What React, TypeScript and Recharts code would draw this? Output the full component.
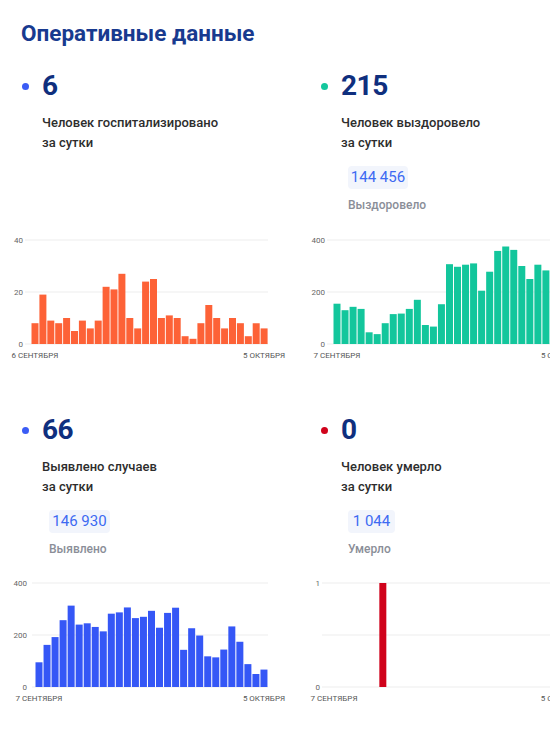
import React from "react";
import { BarChart, Bar, XAxis, YAxis, CartesianGrid } from "recharts";

// days 6 Sep .. 5 Oct
const days30 = [
  "6 СЕНТЯБРЯ", "7 СЕНТЯБРЯ", "8 СЕНТЯБРЯ", "9 СЕНТЯБРЯ", "10 СЕНТЯБРЯ",
  "11 СЕНТЯБРЯ", "12 СЕНТЯБРЯ", "13 СЕНТЯБРЯ", "14 СЕНТЯБРЯ", "15 СЕНТЯБРЯ",
  "16 СЕНТЯБРЯ", "17 СЕНТЯБРЯ", "18 СЕНТЯБРЯ", "19 СЕНТЯБРЯ", "20 СЕНТЯБРЯ",
  "21 СЕНТЯБРЯ", "22 СЕНТЯБРЯ", "23 СЕНТЯБРЯ", "24 СЕНТЯБРЯ", "25 СЕНТЯБРЯ",
  "26 СЕНТЯБРЯ", "27 СЕНТЯБРЯ", "28 СЕНТЯБРЯ", "29 СЕНТЯБРЯ", "30 СЕНТЯБРЯ",
  "1 ОКТЯБРЯ", "2 ОКТЯБРЯ", "3 ОКТЯБРЯ", "4 ОКТЯБРЯ", "5 ОКТЯБРЯ",
];
const days29 = days30.slice(1);

const hospitalized = [8, 19, 9, 8, 10, 5, 9, 6, 9, 22, 21, 27, 10, 6, 24, 25, 10, 11, 10, 3, 2, 8, 15, 10, 6, 10, 8, 3, 8, 6];
const recovered = [155, 130, 143, 135, 45, 38, 80, 115, 117, 135, 170, 73, 67, 153, 307, 297, 305, 310, 205, 278, 358, 375, 362, 300, 250, 305, 283, 270, 215];
const detected = [95, 162, 192, 257, 313, 240, 245, 231, 214, 282, 287, 306, 265, 270, 293, 228, 285, 305, 143, 226, 198, 118, 114, 144, 233, 174, 88, 50, 67];
const died = [0, 0, 0, 0, 0, 0, 1, 0, 0, 0, 0, 0, 0, 0, 0, 0, 0, 0, 0, 0, 0, 0, 0, 0, 0, 0, 0, 0, 0];

const FONT = "Roboto, 'Noto Sans', sans-serif";

interface MiniBarsProps {
  days: string[];
  values: number[];
  color: string;
  left: number;
  top: number;
  yWidth: number;
  padLeft: number;
  marginRight: number;
  yTicks: number[];
  tickMargin: number;
  hideTick?: number;
}

function MiniBars({ days, values, color, left, top, yWidth, padLeft, marginRight, yTicks, tickMargin, hideTick }: MiniBarsProps) {
  const data = days.map((d, i) => ({ day: d, value: values[i] }));
  return (
    <div style={{ position: "absolute", left, top }}>
      <BarChart
        width={290}
        height={134}
        data={data}
        margin={{ top: 10, right: marginRight, left: 0, bottom: 0 }}
        barCategoryGap={0.5}
      >
        <CartesianGrid vertical={false} stroke="#ededed" />
        <XAxis
          dataKey="day"
          ticks={[days[0], days[days.length - 1]]}
          interval={0}
          tickLine={false}
          axisLine={false}
          tickSize={0}
          tickMargin={8}
          height={20}
          padding={{ left: padLeft, right: 0 }}
          tick={{ fontSize: 8, fill: "#555", fontFamily: FONT }}
        />
        <YAxis
          domain={[yTicks[0], yTicks[yTicks.length - 1]]}
          ticks={yTicks}
          width={yWidth}
          tickLine={false}
          axisLine={false}
          tickSize={0}
          tickMargin={tickMargin}
          tickFormatter={(v: number) => (v === hideTick ? "" : String(v))}
          tick={{ fontSize: 8, fill: "#666", fontFamily: FONT }}
        />
        <Bar dataKey="value" fill={color} isAnimationActive={false} />
      </BarChart>
    </div>
  );
}

function Dot({ x, y, color }: { x: number; y: number; color: string }) {
  return (
    <div
      style={{
        position: "absolute",
        left: x - 3.5,
        top: y - 3.5,
        width: 7,
        height: 7,
        borderRadius: "50%",
        background: color,
      }}
    />
  );
}

interface BlockProps {
  x: number;
  y: number;
  dot: string;
  number: string;
  line1: string;
  total?: string;
  totalLabel?: string;
  chipWidth?: number;
}

function Block({ x, y, dot, number, line1, total, totalLabel, chipWidth }: BlockProps) {
  return (
    <>
      <Dot x={x - 17} y={y + 11} color={dot} />
      <div
        style={{
          position: "absolute",
          left: x,
          top: y - 3,
          fontSize: 28,
          lineHeight: "28px",
          fontWeight: 700,
          color: "#0f2f7e",
          letterSpacing: -0.5,
        }}
      >
        {number}
      </div>
      <div
        style={{
          position: "absolute",
          left: x,
          top: y + 38,
          fontSize: 13,
          lineHeight: "20px",
          fontWeight: 500,
          color: "#2d2d2d",
          whiteSpace: "nowrap",
        }}
      >
        {line1}
        <br />
        за сутки
      </div>
      {total && (
        <div
          style={{
            position: "absolute",
            left: x + 7,
            top: y + 91,
            width: chipWidth,
            height: 23,
            lineHeight: "23px",
            background: "#f2f5fc",
            borderRadius: 4,
            fontSize: 15,
            color: "#3d6af2",
            textAlign: "center",
          }}
        >
          {total}
        </div>
      )}
      {totalLabel && (
        <div
          style={{
            position: "absolute",
            left: x + 7,
            top: y + 124,
            fontSize: 12,
            lineHeight: "12px",
            fontWeight: 500,
            color: "#8a8e98",
          }}
        >
          {totalLabel}
        </div>
      )}
    </>
  );
}

export default function App() {
  return (
    <div
      style={{
        position: "absolute",
        left: 0,
        top: 0,
        width: 550,
        height: 734,
        overflow: "hidden",
        background: "#fff",
        fontFamily: FONT,
      }}
    >
      <div
        style={{
          position: "absolute",
          left: 21,
          top: 22,
          fontSize: 22.5,
          lineHeight: "22px",
          fontWeight: 700,
          color: "#183a8f",
          whiteSpace: "nowrap",
        }}
      >
        Оперативные данные
      </div>

      <Block x={42} y={75} dot="#3b5cf5" number="6" line1="Человек госпитализировано" />
      <Block
        x={341}
        y={75}
        dot="#14c79d"
        number="215"
        line1="Человек выздоровело"
        total="144 456"
        totalLabel="Выздоровело"
        chipWidth={60}
      />
      <Block
        x={42}
        y={419}
        dot="#3b5cf5"
        number="66"
        line1="Выявлено случаев"
        total="146 930"
        totalLabel="Выявлено"
        chipWidth={61}
      />
      <Block
        x={341}
        y={419}
        dot="#d0021b"
        number="0"
        line1="Человек умерло"
        total="1 044"
        totalLabel="Умерло"
        chipWidth={47}
      />

      <MiniBars
        days={days30}
        values={hospitalized}
        color="#fd6237"
        left={0}
        top={230}
        yWidth={25}
        padLeft={6}
        marginRight={22}
        yTicks={[0, 20, 40]}
        tickMargin={2}
      />
      <MiniBars
        days={days29}
        values={recovered}
        color="#13c69c"
        left={290}
        top={230}
        yWidth={37}
        padLeft={6}
        marginRight={14}
        yTicks={[0, 200, 400]}
        tickMargin={2}
      />
      <MiniBars
        days={days29}
        values={detected}
        color="#3557f6"
        left={0}
        top={573}
        yWidth={32}
        padLeft={3}
        marginRight={22}
        yTicks={[0, 200, 400]}
        tickMargin={5}
      />
      <MiniBars
        days={days29}
        values={died}
        color="#d0021b"
        left={290}
        top={573}
        yWidth={32}
        padLeft={8}
        marginRight={14}
        yTicks={[0, 0.5, 1]}
        tickMargin={2}
        hideTick={0.5}
      />
    </div>
  );
}
